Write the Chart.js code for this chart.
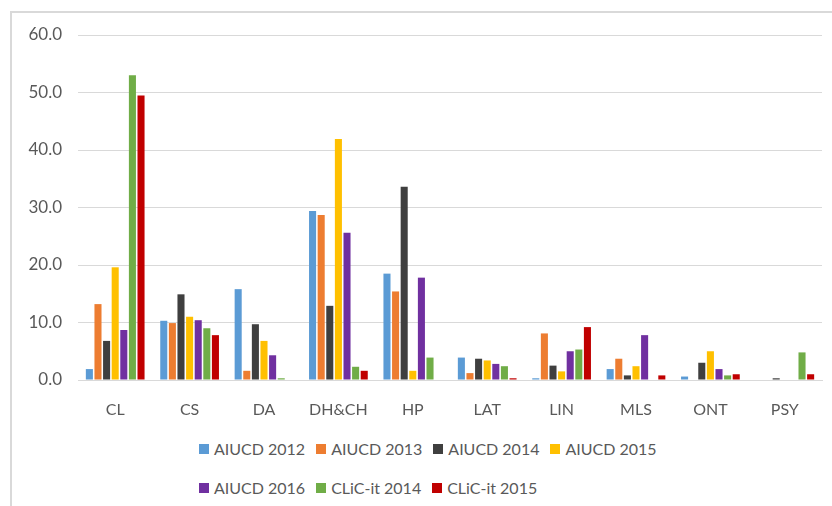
<!DOCTYPE html>
<html lang="en">
<head>
  <meta charset="UTF-8">
  <title>Papers by topic</title>
  <script src="https://cdn.jsdelivr.net/npm/chart.js"></script>
  <style>
    html, body {
      margin: 0;
      background: #fff;
      overflow: hidden;
      font-family: Lato, "Open Sans", sans-serif;
    }
    #wrap {
      position: relative;
      width: 832px;
      height: 506px;
      overflow: hidden;
    }
    #frame {
      position: absolute;
      left: 10px;
      top: 11px;
      right: 0;
      bottom: 0;
      border-left: 2px solid #d9d9d9;
      border-top: 2px solid #d9d9d9;
    }
    #chartBox {
      position: absolute;
      left: 0;
      top: 0;
      width: 832px;
      height: 420px;
    }
    #legend {
      position: absolute;
      left: 199px;
      top: 435px;
      width: 470px;
      display: flex;
      flex-wrap: wrap;
      color: #595959;
      font-size: 16px;
    }
    .item {
      display: flex;
      align-items: center;
      height: 27px;
      margin-right: 11px;
      margin-bottom: 12px;
    }
    .box {
      width: 10px;
      height: 10px;
      margin-right: 5px;
    }
  </style>
</head>
<body>
  <div id="wrap">
    <div id="frame"></div>
    <div id="chartBox"><canvas id="topicChart" width="832" height="420"></canvas></div>
    <div id="legend"></div>
  </div>

  <script>
    const categories = ['CL', 'CS', 'DA', 'DH&CH', 'HP', 'LAT', 'LIN', 'MLS', 'ONT', 'PSY'];
    const yTicks = [0, 10, 20, 30, 40, 50, 60];

    const aiucd2012 = [1.9, 10.3, 15.8, 29.4, 18.5, 3.9, 0.3, 1.9, 0.6, 0];
    const aiucd2013 = [13.2, 9.9, 1.6, 28.7, 15.4, 1.2, 8.1, 3.7, 0, 0];
    const aiucd2014 = [6.8, 14.9, 9.7, 12.9, 33.6, 3.7, 2.5, 0.8, 3.0, 0.3];
    const aiucd2015 = [19.6, 11.0, 6.8, 41.9, 1.6, 3.4, 1.5, 2.4, 5.0, 0];
    const aiucd2016 = [8.7, 10.4, 4.3, 25.6, 17.8, 2.8, 5.0, 7.8, 1.9, 0];
    const clic2014 = [53.0, 9.0, 0.3, 2.3, 3.9, 2.4, 5.3, 0, 0.8, 4.8];
    const clic2015 = [49.5, 7.8, 0, 1.6, 0, 0.3, 9.2, 0.8, 1.0, 1.0];

    const seriesNames = ['AIUCD 2012', 'AIUCD 2013', 'AIUCD 2014', 'AIUCD 2015', 'AIUCD 2016', 'CLiC-it 2014', 'CLiC-it 2015'];
    const seriesData = [aiucd2012, aiucd2013, aiucd2014, aiucd2015, aiucd2016, clic2014, clic2015];
    const seriesColors = ['#5b9bd5', '#ed7d31', '#3f3f3f', '#ffc000', '#7030a0', '#70ad47', '#c00000'];

    const fontFamily = 'Lato, "Open Sans", sans-serif';

    new Chart(document.getElementById('topicChart').getContext('2d'), {
      type: 'bar',
      data: {
        labels: categories,
        datasets: seriesNames.map((name, i) => ({
          label: name,
          data: seriesData[i],
          backgroundColor: seriesColors[i],
          categoryPercentage: 0.81,
          barPercentage: 0.82
        }))
      },
      options: {
        responsive: false,
        animation: false,
        layout: { padding: { top: 35, right: 10, bottom: 0, left: 0 } },
        plugins: {
          legend: { display: false },
          tooltip: { enabled: false }
        },
        scales: {
          x: {
            afterFit: axis => { axis.height = 40; },
            grid: { display: false, drawTicks: false },
            border: { display: true, color: '#d9d9d9', width: 1 },
            ticks: { color: '#595959', font: { family: fontFamily, size: 16 }, padding: 20, maxRotation: 0 }
          },
          y: {
            min: yTicks[0],
            max: yTicks[yTicks.length - 1],
            afterBuildTicks: axis => { axis.ticks = yTicks.map(v => ({ value: v })); },
            afterFit: axis => { axis.width = 78; },
            grid: { color: '#d9d9d9', drawTicks: false },
            border: { display: false },
            ticks: {
              color: '#595959',
              font: { family: fontFamily, size: 17 },
              padding: 16,
              callback: v => Number(v).toFixed(1)
            }
          }
        }
      }
    });

    // legend, left-aligned rows like the original
    const legend = document.getElementById('legend');
    seriesNames.forEach((name, i) => {
      const item = document.createElement('div');
      item.className = 'item';
      item.innerHTML = `<span class="box" style="background:${seriesColors[i]}"></span><span>${name}</span>`;
      legend.appendChild(item);
    });
  </script>
</body>
</html>
